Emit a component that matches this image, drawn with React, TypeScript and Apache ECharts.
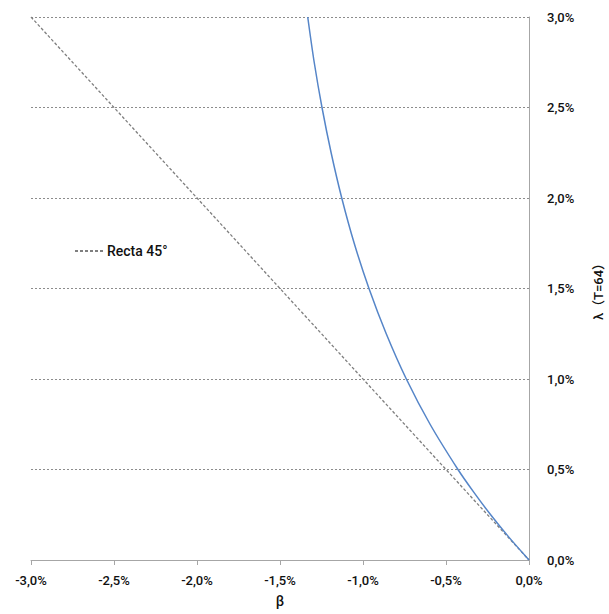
import React, { useEffect, useRef } from "react";
import * as echarts from "echarts";

// λ (T=64) in %, and the β (in %) read for each on the blue curve
const lambdaCurve = [0, 0.125, 0.25, 0.375, 0.5, 0.75, 1.0, 1.25, 1.5, 1.75, 2.0, 2.25, 2.5, 2.75, 3.0];
const betaCurve = [0, -0.120, -0.231, -0.333, -0.428, -0.596, -0.739, -0.860, -0.964, -1.053, -1.128, -1.192, -1.247, -1.294, -1.333];

// 45° reference line
const betaLine = [-3.0, 0.0];
const lambdaLine = [3.0, 0.0];

const xTicks = [-3.0, -2.5, -2.0, -1.5, -1.0, -0.5, 0.0];
const yTicks = [0.0, 0.5, 1.0, 1.5, 2.0, 2.5, 3.0];

const lineName = "Recta 45°";
const xName = "β";
const yName = "λ（T=64）";

const fmt = (v: number) => v.toFixed(1).replace(".", ",") + "%";
const FONT = "Roboto";

export default function App() {
  const ref = useRef<HTMLDivElement>(null);
  useEffect(() => {
    document.body.style.margin = "0";
    if (!ref.current) return;
    const chart = echarts.init(ref.current, undefined, { renderer: "svg" });
    chart.setOption({
      animation: false,
      textStyle: { fontFamily: FONT },
      grid: { left: 31, right: 80, top: 17, bottom: 54, containLabel: false, outerBoundsMode: "none" },
      legend: {
        data: [lineName],
        left: 69,
        top: 239,
        itemWidth: 30,
        itemHeight: 14,
        itemGap: 0,
        itemStyle: { opacity: 0 },
        textStyle: { fontFamily: FONT, fontSize: 14, fontWeight: 500, color: "#111", padding: [0, 0, 0, -3] },
      },
      xAxis: {
        type: "value",
        min: xTicks[0],
        max: xTicks[xTicks.length - 1],
        interval: 0.5,
        name: xName,
        nameLocation: "middle",
        nameGap: 34,
        nameTextStyle: { fontFamily: FONT, fontSize: 14, fontWeight: 500, color: "#111" },
        axisLine: { show: true, onZero: false, lineStyle: { color: "#a6a6a6", width: 1 } },
        axisTick: { show: true, length: 5, lineStyle: { color: "#a6a6a6" } },
        axisLabel: { formatter: fmt, margin: 14, fontFamily: FONT, fontSize: 13, fontWeight: 500, color: "#111" },
        splitLine: { show: false },
      },
      yAxis: {
        type: "value",
        position: "right",
        min: yTicks[0],
        max: yTicks[yTicks.length - 1],
        interval: 0.5,
        name: yName,
        nameLocation: "middle",
        nameRotate: 90,
        nameGap: 63,
        nameTextStyle: { fontFamily: "Roboto, 'Noto Sans CJK SC'", fontSize: 13, fontWeight: 500, color: "#111" },
        axisLine: { show: true, onZero: false, lineStyle: { color: "#a6a6a6", width: 1 } },
        axisTick: { show: false },
        axisLabel: { formatter: fmt, margin: 18, fontFamily: FONT, fontSize: 13, fontWeight: 500, color: "#111" },
        splitLine: { show: true, lineStyle: { color: "#8c8c8c", type: [2, 2], width: 1 } },
      },
      series: [
        {
          name: lineName,
          type: "line",
          data: betaLine.map((b, i) => [b, lambdaLine[i]]),
          symbol: "none",
          lineStyle: { color: "#7f7f7f", type: [3, 2], width: 1.3 },
          itemStyle: { color: "#7f7f7f" },
        },
        {
          name: "curve",
          type: "line",
          data: betaCurve.map((b, i) => [b, lambdaCurve[i]]),
          symbol: "none",
          smooth: 0.3,
          lineStyle: { color: "#5585c8", width: 1.5 },
          itemStyle: { color: "#5585c8" },
        },
      ],
    });
    return () => chart.dispose();
  }, []);
  return <div ref={ref} style={{ width: 609, height: 614 }} />;
}
